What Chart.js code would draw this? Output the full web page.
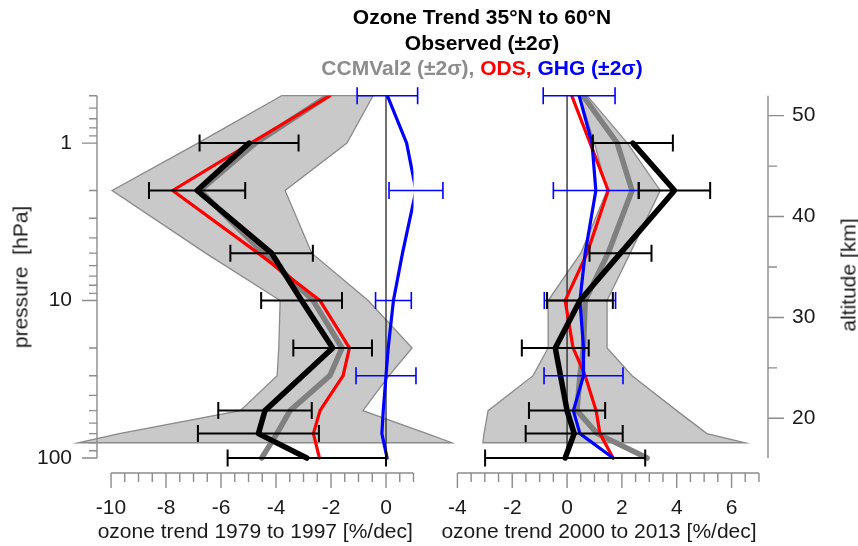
<!DOCTYPE html>
<html>
<head>
<meta charset="utf-8">
<title>Ozone Trend 35°N to 60°N</title>
<script src="https://cdn.jsdelivr.net/npm/chart.js@4.4.1/dist/chart.umd.min.js"></script>
<style>
  html, body { margin: 0; padding: 0; background: #fff; }
  #wrap { position: relative; width: 858px; height: 546px; font-family: "Liberation Sans", Arial, Helvetica, sans-serif; }
  #wrap canvas { position: absolute; left: 0; top: 0; }
  #title { position: absolute; left: 482px; top: 4px; transform: translateX(-50%); text-align: center;
           font-weight: bold; font-size: 21px; line-height: 25.5px; white-space: nowrap; color: #000; }
  .ytitle { position: absolute; font-size: 21px; line-height: 1; white-space: pre; color: #1a1a1a;
            transform: translate(-50%, -50%) rotate(-90deg); }
</style>
</head>
<body>
<div id="wrap">
  <canvas id="pastChart" width="858" height="546"></canvas>
  <canvas id="recentChart" width="858" height="546"></canvas>
  <div id="title">Ozone Trend 35°N to 60°N<br>Observed (±2σ)<br><span style="color:#8c8c8c">CCMVal2 (±2σ),</span> <span style="color:#ff0000">ODS,</span> <span style="color:#0000ff">GHG (±2σ)</span></div>
  <div class="ytitle" style="left:20px; top:277px">pressure  [hPa]</div>
  <div class="ytitle" style="left:848px; top:275px">altitude [km]</div>
</div>
<script>
// pressure levels [hPa]
var levels = [0.5, 1, 2, 5, 10, 20, 30, 50, 70, 100];
var obsLevels = [1, 2, 5, 10, 20, 50, 70, 100];
var ghgBarLevels = [0.5, 2, 10, 30];
var envLevels = [0.5, 1, 2, 5, 10, 20, 30, 50, 70, 80];
var zeroLineEnds = [0.5, 100];

// 1979 to 1997 [%/dec]
var obsPast = [-4.98, -6.87, -4.16, -3.07, -1.94, -4.40, -4.64, -2.88];
var obsErrPast = [1.80, 1.75, 1.50, 1.47, 1.43, 1.70, 2.20, 2.88];
var ccmvalPast = [-2.10, -4.75, -6.76, -4.47, -2.65, -1.60, -2.04, -3.49, -3.97, -4.52];
var odsPast = [-2.04, -4.92, -7.76, -4.65, -2.40, -1.33, -1.56, -2.40, -2.64, -2.42];
var ghgPast = [0.05, 0.75, 1.09, 0.60, 0.27, 0.08, 0.00, -0.10, -0.15, 0.04];
var ghgErrPast = [1.10, 0.98, 0.65, 1.09];
var envMinPast = [-3.80, -6.84, -9.96, -6.56, -3.85, -3.90, -3.96, -5.30, -9.70, -11.20];
var envMaxPast = [-0.47, -1.42, -3.67, -2.70, -0.65, 0.95, 0.11, -0.84, 1.49, 2.40];

// 2000 to 2013 [%/dec]
var obsRecent = [2.40, 3.92, 1.95, 0.47, -0.43, 0.00, 0.26, -0.07];
var obsErrRecent = [1.46, 1.30, 1.13, 1.20, 1.22, 1.39, 1.77, 2.92];
var ccmvalRecent = [0.58, 1.83, 2.37, 1.50, 0.66, 0.60, 0.47, 0.36, 1.10, 2.92];
var odsRecent = [0.17, 0.84, 1.50, 0.73, -0.07, 0.22, 0.66, 1.06, 1.20, 1.68];
var ghgRecent = [0.44, 0.91, 1.05, 0.66, 0.47, 0.60, 0.60, 0.23, 0.47, 1.68];
var ghgErrRecent = [1.31, 1.55, 1.30, 1.44];
var envMinRecent = [0.47, 1.00, 1.46, 0.50, -0.69, -0.69, -1.24, -2.88, -3.03, -3.07];
var envMaxRecent = [0.73, 2.20, 3.40, 2.30, 1.46, 1.46, 2.37, 4.00, 5.10, 6.50];

// tick labels
var pastTicks = [-10, -8, -6, -4, -2, 0];
var recentTicks = [-4, -2, 0, 2, 4, 6];
var pressureTicks = [1, 10, 100];
var altitudeTicks = [20, 30, 40, 50];

var FONT = '"Liberation Sans", Arial, Helvetica, sans-serif';
var INK = '#1a1a1a';
var AXIS = '#8c8c8c';

function pts(levs, vals) {
  return levs.map(function (p, i) { return { x: vals[i], y: p }; });
}

function lineSet(data, color, width) {
  return {
    data: data, showLine: true, borderColor: color, backgroundColor: color,
    borderWidth: width, pointRadius: 0, tension: 0,
    borderJoinStyle: 'round', borderCapStyle: 'round'
  };
}

function datasetsFor(obs, ccm, ods, ghg) {
  // first in list is drawn on top
  return [
    lineSet(pts(obsLevels, obs), '#000000', 5.5),
    lineSet(pts(levels, ghg), '#0000ff', 3.2),
    lineSet(pts(levels, ods), '#ff0000', 3.2),
    lineSet(pts(levels, ccm), '#808080', 5.5),
    lineSet(pts(zeroLineEnds, [0, 0]), '#222222', 1.3)
  ];
}

// shading, error bars and the detached IDL-style axes
function decor(cfg) {
  return {
    id: 'decor',
    beforeDatasetsDraw: function (chart) {
      var ctx = chart.ctx, xs = chart.scales.x, ys = chart.scales.y;
      ctx.save();
      ctx.beginPath();
      envLevels.forEach(function (p, i) {
        var px = xs.getPixelForValue(cfg.envMin[i]), py = ys.getPixelForValue(p);
        if (i === 0) ctx.moveTo(px, py); else ctx.lineTo(px, py);
      });
      for (var i = envLevels.length - 1; i >= 0; i--) {
        ctx.lineTo(xs.getPixelForValue(cfg.envMax[i]), ys.getPixelForValue(envLevels[i]));
      }
      ctx.closePath();
      ctx.fillStyle = '#c9c9c9';
      ctx.fill();
      ctx.lineWidth = 1.3;
      ctx.strokeStyle = '#8a8a8a';
      ctx.stroke();
      ctx.restore();
    },
    afterDatasetsDraw: function (chart) {
      var ctx = chart.ctx, xs = chart.scales.x, ys = chart.scales.y;
      function bars(levs, mid, err, color, width) {
        ctx.strokeStyle = color;
        ctx.lineWidth = width;
        levs.forEach(function (p, i) {
          var y = ys.getPixelForValue(p);
          var x0 = xs.getPixelForValue(mid[i] - err[i]);
          var x1 = xs.getPixelForValue(mid[i] + err[i]);
          ctx.beginPath();
          ctx.moveTo(x0, y); ctx.lineTo(x1, y);
          ctx.moveTo(x0, y - 8.5); ctx.lineTo(x0, y + 8.5);
          ctx.moveTo(x1, y - 8.5); ctx.lineTo(x1, y + 8.5);
          ctx.stroke();
        });
      }
      var ghgMid = ghgBarLevels.map(function (p) { return cfg.ghg[levels.indexOf(p)]; });
      ctx.save();
      bars(ghgBarLevels, ghgMid, cfg.ghgErr, '#0000ff', 1.6);
      bars(obsLevels, cfg.obs, cfg.obsErr, '#000000', 2);
      ctx.restore();
    },
    afterDraw: function (chart) {
      var ctx = chart.ctx, xs = chart.scales.x, ys = chart.scales.y, a = chart.chartArea;
      var top = ys.getPixelForValue(0.5), bot = ys.getPixelForValue(100);
      ctx.save();
      ctx.strokeStyle = AXIS;
      ctx.lineWidth = 1.4;
      ctx.beginPath();
      // x axis
      ctx.moveTo(xs.getPixelForValue(cfg.xFrom), a.bottom);
      ctx.lineTo(xs.getPixelForValue(cfg.xTo), a.bottom);
      for (var v = cfg.xFrom; v <= cfg.xTo + 1e-9; v += 0.5) {
        var px = xs.getPixelForValue(v);
        ctx.moveTo(px, a.bottom);
        ctx.lineTo(px, a.bottom + (v % 2 === 0 ? 15 : 9));
      }
      if (cfg.side === 'left') {
        ctx.moveTo(a.left, top); ctx.lineTo(a.left, bot);
        [0.1, 1, 10].forEach(function (dec) {
          for (var k = 1; k <= 9; k++) {
            var p = k * dec;
            if (p < 0.5 - 1e-9) continue;
            var py = ys.getPixelForValue(p);
            ctx.moveTo(a.left, py); ctx.lineTo(a.left - (k === 1 ? 15 : 8), py);
          }
        });
        ctx.moveTo(a.left, bot); ctx.lineTo(a.left - 15, bot);
      } else {
        var alt = chart.scales.alt;
        ctx.moveTo(a.right, top); ctx.lineTo(a.right, bot);
        for (var z = 20; z <= 50; z += 5) {
          var pz = alt.getPixelForValue(z);
          ctx.moveTo(a.right, pz); ctx.lineTo(a.right + (z % 10 === 0 ? 16 : 9), pz);
        }
      }
      ctx.stroke();
      ctx.restore();
    }
  };
}

function tickFont() { return { family: FONT, size: 21 }; }

var noGrid = { display: false, drawTicks: false };

function xScale(min, max, ticks, title) {
  return {
    type: 'linear', min: min, max: max, bounds: 'data',
    grid: noGrid, border: { display: false },
    afterBuildTicks: function (s) { s.ticks = ticks.map(function (v) { return { value: v }; }); },
    afterFit: function (s) { s.height = 73; },
    ticks: { padding: 23, color: INK, font: tickFont(), maxRotation: 0, autoSkip: false,
             callback: function (v) { return String(v); } },
    title: { display: true, text: title, color: INK, font: tickFont(), padding: { top: 0, bottom: 1 } }
  };
}

function pressureScale(show) {
  return {
    type: 'logarithmic', reverse: true, min: 0.5, max: 124.5, bounds: 'data',
    display: show, position: 'left',
    grid: noGrid, border: { display: false },
    afterBuildTicks: function (s) { s.ticks = pressureTicks.map(function (v) { return { value: v }; }); },
    afterFit: function (s) { if (show) s.width = 97; },
    ticks: { padding: 25, color: INK, font: tickFont(), autoSkip: false,
             callback: function (v) { return String(v); } }
  };
}

var common = {
  responsive: false, animation: false, events: [],
  plugins: { legend: { display: false }, tooltip: { enabled: false } }
};

new Chart(document.getElementById('pastChart').getContext('2d'), {
  type: 'scatter',
  data: { datasets: datasetsFor(obsPast, ccmvalPast, odsPast, ghgPast) },
  options: Object.assign({}, common, {
    layout: { padding: { left: 0, top: 95.7, right: 444.5, bottom: 0 } },
    scales: {
      x: xScale(-10.51, 1, pastTicks, 'ozone trend 1979 to 1997 [%/dec]'),
      y: pressureScale(true)
    }
  }),
  plugins: [decor({
    side: 'left', xFrom: -10, xTo: 1,
    envMin: envMinPast, envMax: envMaxPast,
    obs: obsPast, obsErr: obsErrPast, ghg: ghgPast, ghgErr: ghgErrPast
  })]
});

new Chart(document.getElementById('recentChart').getContext('2d'), {
  type: 'scatter',
  data: { datasets: datasetsFor(obsRecent, ccmvalRecent, odsRecent, ghgRecent) },
  options: Object.assign({}, common, {
    layout: { padding: { left: 430, top: 95.7, right: 0, bottom: 0 } },
    scales: {
      x: xScale(-5.0, 7.33, recentTicks, 'ozone trend 2000 to 2013 [%/dec]'),
      y: pressureScale(false),
      alt: {
        axis: 'y', type: 'linear', position: 'right', min: 14.58, max: 51.98, bounds: 'data',
        grid: noGrid, border: { display: false },
        afterBuildTicks: function (s) { s.ticks = altitudeTicks.map(function (v) { return { value: v }; }); },
        afterFit: function (s) { s.width = 90; },
        ticks: { padding: 24, color: INK, font: tickFont(), autoSkip: false,
                 callback: function (v) { return String(v); } }
      }
    }
  }),
  plugins: [decor({
    side: 'right', xFrom: -4, xTo: 7,
    envMin: envMinRecent, envMax: envMaxRecent,
    obs: obsRecent, obsErr: obsErrRecent, ghg: ghgRecent, ghgErr: ghgErrRecent
  })]
});
</script>
</body>
</html>
